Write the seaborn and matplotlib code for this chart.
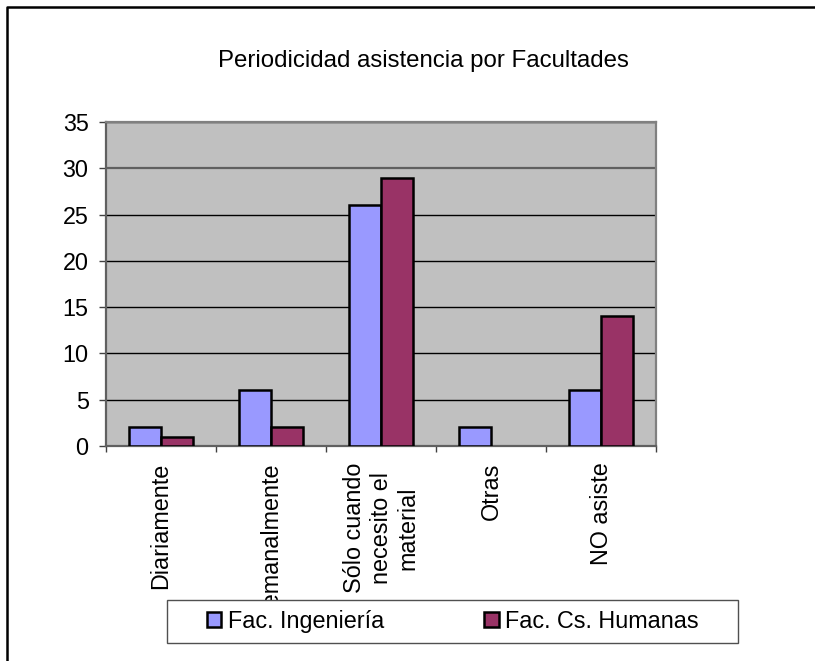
import matplotlib
matplotlib.use("Agg")
import matplotlib.pyplot as plt
from matplotlib.patches import Patch, Rectangle
from matplotlib.lines import Line2D
import seaborn as sns
import pandas as pd

# ---- data ----
categories = ["Diariamente", "Semanalmente", "Sólo cuando\nnecesito el\nmaterial", "Otras", "NO asiste"]
ingenieria = [2, 6, 26, 2, 6]
humanas = [1, 2, 29, 0, 14]
series_names = ["Fac. Ingeniería", "Fac. Cs. Humanas"]
series_colors = ["#9999FF", "#993366"]
y_ticks = [0, 5, 10, 15, 20, 25, 30, 35]
title = "Periodicidad asistencia por Facultades"

df = pd.DataFrame({
    "categoria": categories * 2,
    "valor": ingenieria + humanas,
    "facultad": [series_names[0]] * len(categories) + [series_names[1]] * len(categories),
})

plt.rcParams["font.family"] = ["Liberation Sans", "DejaVu Sans"]
FS = 16.8
W, H = 815, 661

fig = plt.figure(figsize=(W / 100, H / 100), dpi=100)
fig.patch.set_facecolor("white")

# plot area in pixel terms
L, R, T, B = 106, 656, 122, 446
ax = fig.add_axes([L / W, 1 - B / H, (R - L) / W, (B - T) / H])

sns.barplot(data=df, x="categoria", y="valor", hue="facultad",
            order=categories, hue_order=series_names, palette=series_colors,
            width=0.582, saturation=1, edgecolor="black", linewidth=1.8,
            legend=False, ax=ax, zorder=3)

# hide zero-height bars
for p in ax.patches:
    if p.get_height() == 0:
        p.set_visible(False)

ax.set_facecolor("#C0C0C0")
ax.set_xlim(-0.5, len(categories) - 0.5)
ax.set_ylim(0, 35)
ax.set_yticks(y_ticks)
ax.set_xlabel("")
ax.set_ylabel("")

ax.set_axisbelow(True)
ax.yaxis.grid(True, color="black", linewidth=1.0)
ax.xaxis.grid(False)
ax.get_ygridlines()[y_ticks.index(30)].set_color("#606060")
ax.get_ygridlines()[y_ticks.index(30)].set_linewidth(1.6)

for side in ["top", "right"]:
    ax.spines[side].set_color("#808080")
    ax.spines[side].set_linewidth(1.6)
for side in ["left", "bottom"]:
    ax.spines[side].set_color("#606060")
    ax.spines[side].set_linewidth(1.6)

# category labels between boundary ticks
ax.set_xticks(range(len(categories)))
ax.set_xticklabels(categories, rotation=90, ha="center", va="top",
                   multialignment="center", fontsize=FS)
ax.set_xticks([i - 0.5 for i in range(len(categories) + 1)], minor=True)
ax.tick_params(axis="x", which="major", length=0, pad=12)
ax.tick_params(axis="x", which="minor", length=4.5, width=1, color="#404040", direction="out")
ax.tick_params(axis="y", which="major", length=5, width=1, color="#404040",
               direction="out", pad=7.5, labelsize=FS)

# title
fig.text(423 / W, 1 - 61 / H, title, ha="center", va="center", fontsize=17.3)

# outer chart border (left and top edges)
fig.add_artist(Line2D([7 / W, 7 / W, 1.0], [0.0, 1 - 7 / H, 1 - 7 / H],
                      transform=fig.transFigure, color="black", linewidth=1.8))

# legend box
fig.add_artist(Rectangle((167 / W, 1 - 643 / H), 571 / W, 43 / H,
                         transform=fig.transFigure, facecolor="white",
                         edgecolor="#505050", linewidth=1.0, zorder=3))
handles = [Patch(facecolor=c, edgecolor="black", linewidth=1.8) for c in series_colors]
fig.legend(handles, series_names, loc="center",
           bbox_to_anchor=(453 / W, 1 - 621.5 / H), ncol=2, frameon=False,
           fontsize=FS, handlelength=0.62, handleheight=0.62,
           handletextpad=0.28, columnspacing=4.3, borderpad=0, borderaxespad=0)

fig.savefig("out.png", dpi=100)
